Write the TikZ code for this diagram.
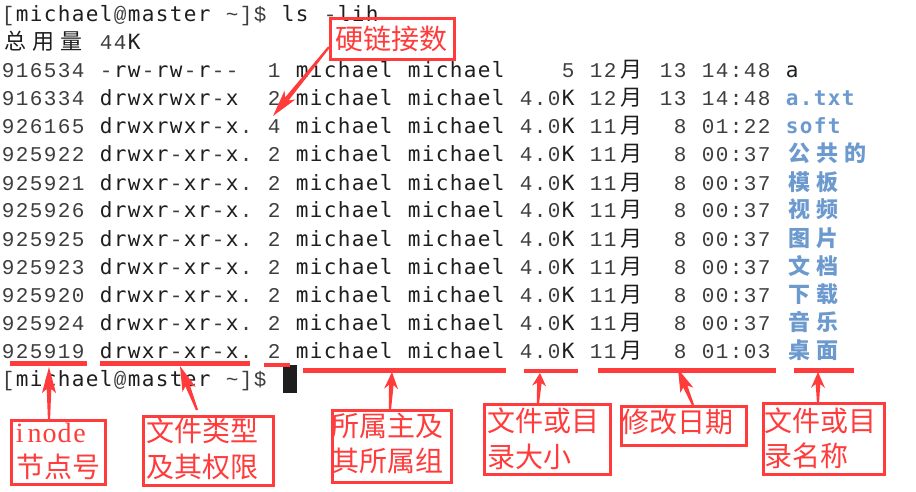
\documentclass[tikz,border=0pt]{standalone}
\usepackage{fontspec}
\usetikzlibrary{calc}
\newfontfamily\dmono{DejaVu Sans Mono}
\newfontfamily\lmono{Liberation Mono}
\newfontfamily\lserif{Liberation Serif}
\newfontfamily\cjk{Noto Sans CJK SC}
\definecolor{redc}{RGB}{255,59,59}
\definecolor{bluec}{RGB}{108,154,206}
\definecolor{termc}{RGB}{30,30,30}
\definecolor{thinc}{RGB}{62,62,62}
% terminal grid: 14pt cells, letters in DejaVu Sans Mono, others in Liberation Mono, _ = blank cell
\def\tgD{\dmono}
\def\tgL{\lmono\color{thinc}}
\def\tgone#1{\ifx_#1\hbox to14pt{\hss}\else\ifcat\noexpand#1a\hbox to14pt{\hss\tgD#1\hss}\else\hbox to14pt{\hss\tgL#1\hss}\fi\fi}
\def\tgaux#1{\ifx#1\relax\else\tgone#1\expandafter\tgaux\fi}
\def\tg#1{\tgaux#1\relax}
\newcommand\tgbold[1]{{\def\tgD{\dmono\bfseries}\let\tgL\tgD\tg{#1}}}
% CJK grid: 28pt cells
\def\cgaux#1{\ifx#1\relax\else\hbox to28pt{\hss#1\hss}\expandafter\cgaux\fi}
\def\cg#1{\cgaux#1\relax}
% tapered red arrow: tail, tip, barb distance, neck distance
\newcommand\redarrow[4]{%
  \path ($(#2)!#3!(#1)$) coordinate (ab) ($(#2)!#4!(#1)$) coordinate (an);
  \fill[redc] ($(#1)!1.1pt!90:(#2)$) -- ($(an)!2.3pt!90:(#2)$) -- ($(ab)!7pt!90:(#2)$) -- (#2)
     -- ($(ab)!7pt!-90:(#2)$) -- ($(an)!2.3pt!-90:(#2)$) -- ($(#1)!1.1pt!-90:(#2)$) -- cycle;}
\begin{document}
\begin{tikzpicture}[x=1pt,y=-1pt,
  term/.style={inner sep=0pt, anchor=base west, text=termc, font=\fontsize{21}{21}\selectfont},
  cjkt/.style={inner sep=0pt, anchor=base west, text=termc, font=\cjk\fontsize{22}{22}\selectfont},
  namet/.style={inner sep=0pt, anchor=base west, text=bluec, font=\fontsize{21}{21}\selectfont},
  cjkname/.style={inner sep=0pt, anchor=base west, text=bluec, font=\cjk\bfseries\fontsize{22}{22}\selectfont},
  lbl/.style={inner sep=0pt, anchor=base west, text=redc, font=\cjk\fontsize{28}{28}\selectfont},
  redbox/.style={draw=redc, line width=3pt, inner sep=0pt},
  uline/.style={draw=redc, line width=4.5pt}]
\fill[white] (0,0) rectangle (916,492);
\useasboundingbox (0,0) rectangle (916,492);
% ---- terminal text ----
\node[term] (p0) at (1,22) {\tg{[michael@master_\textasciitilde]\textdollar_ls_-lih}};
\node[cjkt] (t1) at (1,50) {\cg{总用量}};
\node[term] (t1b) at (99,50) {\tg{44K}};
% rows
\node[term] (r2l) at (1,78) {\tg{916534_-rw-rw-r--__1_michael_michael____5_12}};
\node[cjkt] (r2m) at (617,78) {\cg{月}};
\node[term] (r2r) at (659,78) {\tg{13_14:48}};
\node[term] (r2n) at (785,78) {\tg{a}};
\node[term] (r3l) at (1,106) {\tg{916334_drwxrwxr-x__2_michael_michael_4.0K_12}};
\node[cjkt] (r3m) at (617,106) {\cg{月}};
\node[term] (r3r) at (659,106) {\tg{13_14:48}};
\node[namet] (r3n) at (785,106) {\tgbold{a.txt}};
\node[term] (r4l) at (1,134) {\tg{926165_drwxrwxr-x._4_michael_michael_4.0K_11}};
\node[cjkt] (r4m) at (617,134) {\cg{月}};
\node[term] (r4r) at (659,134) {\tg{_8_01:22}};
\node[namet] (r4n) at (785,134) {\tgbold{soft}};
\node[term] (r5l) at (1,162) {\tg{925922_drwxr-xr-x._2_michael_michael_4.0K_11}};
\node[cjkt] (r5m) at (617,162) {\cg{月}};
\node[term] (r5r) at (659,162) {\tg{_8_00:37}};
\node[cjkname] (r5n) at (785,162) {\cg{公共的}};
\node[term] (r6l) at (1,190) {\tg{925921_drwxr-xr-x._2_michael_michael_4.0K_11}};
\node[cjkt] (r6m) at (617,190) {\cg{月}};
\node[term] (r6r) at (659,190) {\tg{_8_00:37}};
\node[cjkname] (r6n) at (785,190) {\cg{模板}};
\node[term] (r7l) at (1,218) {\tg{925926_drwxr-xr-x._2_michael_michael_4.0K_11}};
\node[cjkt] (r7m) at (617,218) {\cg{月}};
\node[term] (r7r) at (659,218) {\tg{_8_00:37}};
\node[cjkname] (r7n) at (785,218) {\cg{视频}};
\node[term] (r8l) at (1,246) {\tg{925925_drwxr-xr-x._2_michael_michael_4.0K_11}};
\node[cjkt] (r8m) at (617,246) {\cg{月}};
\node[term] (r8r) at (659,246) {\tg{_8_00:37}};
\node[cjkname] (r8n) at (785,246) {\cg{图片}};
\node[term] (r9l) at (1,274) {\tg{925923_drwxr-xr-x._2_michael_michael_4.0K_11}};
\node[cjkt] (r9m) at (617,274) {\cg{月}};
\node[term] (r9r) at (659,274) {\tg{_8_00:37}};
\node[cjkname] (r9n) at (785,274) {\cg{文档}};
\node[term] (r10l) at (1,302) {\tg{925920_drwxr-xr-x._2_michael_michael_4.0K_11}};
\node[cjkt] (r10m) at (617,302) {\cg{月}};
\node[term] (r10r) at (659,302) {\tg{_8_00:37}};
\node[cjkname] (r10n) at (785,302) {\cg{下载}};
\node[term] (r11l) at (1,330) {\tg{925924_drwxr-xr-x._2_michael_michael_4.0K_11}};
\node[cjkt] (r11m) at (617,330) {\cg{月}};
\node[term] (r11r) at (659,330) {\tg{_8_00:37}};
\node[cjkname] (r11n) at (785,330) {\cg{音乐}};
\node[term] (r12l) at (1,358) {\tg{925919_drwxr-xr-x._2_michael_michael_4.0K_11}};
\node[cjkt] (r12m) at (617,358) {\cg{月}};
\node[term] (r12r) at (659,358) {\tg{_8_01:03}};
\node[cjkname] (r12n) at (785,358) {\cg{桌面}};
\node[term] (p13) at (1,386) {\tg{[michael@master_\textasciitilde]\textdollar}};
\fill[termc] (283,365) rectangle (297,393);
% ---- underlines ----
\coordinate (u1a) at (10,363.5);  \coordinate (u1b) at (87,363.5);
\coordinate (u2a) at (100,363.5); \coordinate (u2b) at (250,363.5);
\coordinate (u3a) at (264,365);   \coordinate (u3b) at (290,365);
\coordinate (u4a) at (303,370.5); \coordinate (u4b) at (506,370.5);
\coordinate (u5a) at (524,371);   \coordinate (u5b) at (578,371);
\coordinate (u6a) at (598,370.5); \coordinate (u6b) at (776,370.5);
\coordinate (u7a) at (794,370.5); \coordinate (u7b) at (854,370.5);
\foreach \i in {1,...,7} {\draw[uline] (u\i a) -- (u\i b);}
% ---- label boxes ----
\node[redbox, minimum width=124pt, minimum height=41pt] (bLink) at (392.5,39) {};
\node[redbox, minimum width=94pt, minimum height=64pt] (bInode) at (58.5,452.5) {};
\node[redbox, minimum width=130pt, minimum height=69pt] (bPerm) at (208.5,451) {};
\node[redbox, minimum width=119pt, minimum height=72pt] (bOwner) at (392,446.5) {};
\node[redbox, minimum width=126pt, minimum height=70pt] (bSize) at (547.5,439.5) {};
\node[redbox, minimum width=125pt, minimum height=39pt] (bDate) at (684,426) {};
\node[redbox, minimum width=121pt, minimum height=71pt] (bName) at (824,439) {};
% ---- label texts ----
\node[lbl] (lLink) at (335,50) {硬链接数};
\node[inner sep=0pt, anchor=base west, text=redc, font=\lserif\fontsize{28}{28}\selectfont] (lInode1) at (12,442)
  {\hbox to15pt{\hss i\hss}\hbox to15pt{\hss n\hss}\hbox to15pt{\hss o\hss}\hbox to15pt{\hss d\hss}\hbox to15pt{\hss e\hss}};
\node[lbl] (lInode2) at (16,477) {节点号};
\node[lbl] (lPerm1) at (146,441) {文件类型};
\node[lbl] (lPerm2) at (146,477) {及其权限};
\node[lbl] (lOwner1) at (331,436) {所属主及};
\node[lbl] (lOwner2) at (331,471) {其所属组};
\node[lbl] (lSize1) at (487,431) {文件或目};
\node[lbl] (lSize2) at (487,467) {录大小};
\node[lbl] (lDate) at (621,432) {修改日期};
\node[lbl] (lName1) at (764,431) {文件或目};
\node[lbl] (lName2) at (764,466) {录名称};
% ---- arrows ----
\coordinate (aLinkT) at (329,47);  \coordinate (aLinkH) at (273,116);
\coordinate (aInodeT) at (49,419); \coordinate (aInodeH) at (49,367);
\coordinate (aPermT) at (197,410); \coordinate (aPermH) at (180,366);
\coordinate (aOwnerT) at (390,409); \coordinate (aOwnerH) at (392,372);
\coordinate (aSizeT) at (538,403); \coordinate (aSizeH) at (540,373);
\coordinate (aDateT) at (693,405); \coordinate (aDateH) at (678,369);
\coordinate (aNameT) at (818,402); \coordinate (aNameH) at (818,372);
\redarrow{aLinkT}{aLinkH}{27pt}{22pt}
\redarrow{aInodeT}{aInodeH}{26pt}{22pt}
\redarrow{aPermT}{aPermH}{25pt}{21pt}
\redarrow{aOwnerT}{aOwnerH}{17pt}{13pt}
\redarrow{aSizeT}{aSizeH}{13pt}{10pt}
\redarrow{aDateT}{aDateH}{23pt}{19pt}
\redarrow{aNameT}{aNameH}{16pt}{12pt}
\end{tikzpicture}
\end{document}
